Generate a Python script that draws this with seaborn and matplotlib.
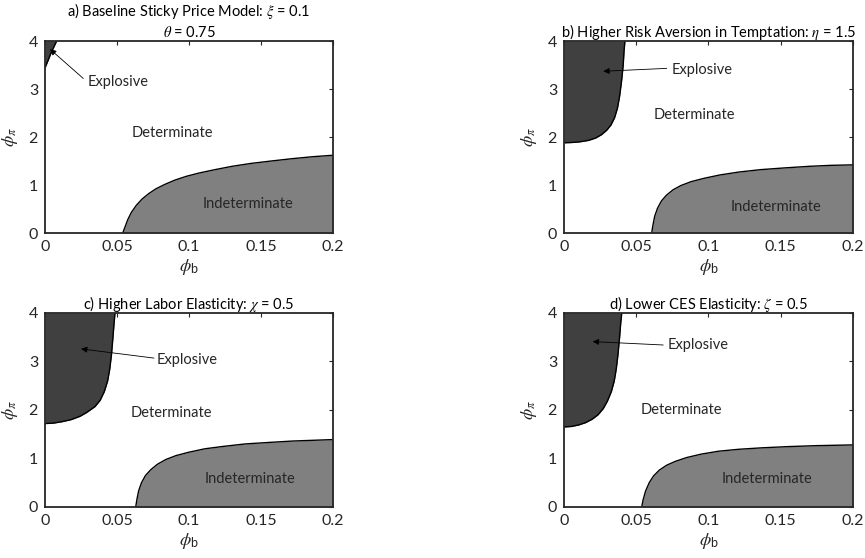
import numpy as np
import pandas as pd
import matplotlib
matplotlib.use("Agg")
import matplotlib.pyplot as plt
import seaborn as sns

#---- Boundary data ----#

# indeterminate boundary: phi_pi as a function of phi_b
ind_b_a = [0.054, 0.0555, 0.0575, 0.060, 0.0635, 0.0675, 0.072, 0.077, 0.083, 0.090,
           0.098, 0.107, 0.118, 0.130, 0.143, 0.157, 0.172, 0.186, 0.2]
ind_pi_a = [0.0, 0.12, 0.28, 0.43, 0.58, 0.71, 0.82, 0.92, 1.01, 1.10,
            1.18, 1.25, 1.32, 1.39, 1.45, 1.50, 1.55, 1.59, 1.62]

ind_b_b = [0.0607, 0.0615, 0.0628, 0.0648, 0.0675, 0.071, 0.0755, 0.081, 0.088,
           0.097, 0.108, 0.121, 0.136, 0.152, 0.170, 0.185, 0.2]
ind_pi_b = [0.0, 0.15, 0.35, 0.52, 0.67, 0.79, 0.90, 0.99, 1.07,
            1.14, 1.21, 1.27, 1.32, 1.355, 1.39, 1.41, 1.42]

ind_b_c = [0.063, 0.0638, 0.065, 0.067, 0.0698, 0.0735, 0.078, 0.084, 0.091,
           0.100, 0.111, 0.124, 0.139, 0.155, 0.172, 0.186, 0.2]
ind_pi_c = [0.0, 0.15, 0.33, 0.50, 0.65, 0.77, 0.88, 0.98, 1.06,
            1.13, 1.20, 1.25, 1.30, 1.33, 1.36, 1.375, 1.39]

ind_b_d = [0.0538, 0.0548, 0.0565, 0.059, 0.062, 0.066, 0.071, 0.077, 0.085,
           0.095, 0.107, 0.121, 0.137, 0.155, 0.175, 0.2]
ind_pi_d = [0.0, 0.15, 0.33, 0.50, 0.64, 0.76, 0.86, 0.94, 1.02,
            1.09, 1.15, 1.19, 1.22, 1.245, 1.265, 1.28]

# explosive boundary: phi_b as a function of phi_pi
exp_pi_a = [3.44, 3.6, 3.75, 3.88, 4.0]
exp_b_a = [0.0, 0.0022, 0.0042, 0.0062, 0.0081]

exp_pi_b = [1.88, 1.885, 1.90, 1.93, 1.98, 2.05, 2.14, 2.25, 2.40, 2.60, 2.85, 3.15, 3.50, 3.80, 4.0]
exp_b_b = [0.0, 0.005, 0.011, 0.017, 0.022, 0.026, 0.0295, 0.0325, 0.035, 0.037, 0.0385, 0.0398, 0.041, 0.0416, 0.0422]

exp_pi_c = [1.72, 1.73, 1.76, 1.80, 1.87, 1.95, 2.07, 2.20, 2.38, 2.60, 2.85, 3.15, 3.50, 3.80, 4.0]
exp_b_c = [0.0, 0.006, 0.012, 0.018, 0.0243, 0.029, 0.0347, 0.0383, 0.0412, 0.0435, 0.045, 0.0462, 0.0472, 0.048, 0.0486]

exp_pi_d = [1.65, 1.66, 1.69, 1.74, 1.81, 1.90, 2.03, 2.18, 2.38, 2.60, 2.85, 3.15, 3.50, 3.80, 4.0]
exp_b_d = [0.0, 0.005, 0.010, 0.015, 0.0195, 0.0235, 0.0272, 0.030, 0.0328, 0.0348, 0.0362, 0.0374, 0.0385, 0.0393, 0.040]

titles = [
    "a) Baseline Sticky Price Model: $\\xi$ = 0.1\n$\\theta$ = 0.75",
    "b) Higher Risk Aversion in Temptation: $\\eta$ = 1.5",
    "c) Higher Labor Elasticity: $\\chi$ = 0.5",
    "d) Lower CES Elasticity: $\\zeta$ = 0.5",
]

# label positions (phi_b, phi_pi)
exp_txt = [(0.0509, 3.15), (0.0953, 3.40), (0.0988, 3.03), (0.093, 3.33)]
exp_tail = [(0.0266, 3.22), (0.0711, 3.43), (0.0757, 3.07), (0.0687, 3.34)]
exp_head = [(0.0035, 3.83), (0.0272, 3.37), (0.025, 3.26), (0.0199, 3.41)]
det_txt = [(0.0887, 2.09), (0.090, 2.46), (0.0875, 1.94), (0.0814, 2.0)]
ind_txt = [(0.141, 0.60), (0.1467, 0.54), (0.1424, 0.57), (0.1407, 0.58)]

panels = [
    (ind_b_a, ind_pi_a, exp_pi_a, exp_b_a),
    (ind_b_b, ind_pi_b, exp_pi_b, exp_b_b),
    (ind_b_c, ind_pi_c, exp_pi_c, exp_b_c),
    (ind_b_d, ind_pi_d, exp_pi_d, exp_b_d),
]

#---- Render ----#

sns.set_style("white")
plt.rcParams['font.family'] = ['Lato', 'DejaVu Sans']
plt.rcParams['mathtext.fontset'] = 'stix'

fig = plt.figure(figsize=(8.65, 5.58), dpi=100)
positions = [
    [0.052, 0.5824, 0.333, 0.3441],
    [0.652, 0.5824, 0.334, 0.3441],
    [0.052, 0.0914, 0.333, 0.3477],
    [0.652, 0.0914, 0.334, 0.3477],
]

col_exp = "#404040"
col_ind = "#808080"
edge = "#262626"

for i, (ib, ip, ep, eb) in enumerate(panels):
    ax = fig.add_axes(positions[i])
    ax.fill_between(ib, 0, ip, color=col_ind, lw=0)
    ax.fill_betweenx(ep, 0, eb, color=col_exp, lw=0)
    sns.lineplot(x=ib, y=ip, sort=False, color="black", lw=1.0, ax=ax, estimator=None)
    sns.lineplot(x=eb, y=ep, sort=False, color="black", lw=1.0, ax=ax, estimator=None)

    ax.set_xlim(0, 0.2)
    ax.set_ylim(0, 4)
    ax.set_xticks([0, 0.05, 0.1, 0.15, 0.2])
    ax.set_xticklabels(["0", "0.05", "0.1", "0.15", "0.2"])
    ax.set_yticks([0, 1, 2, 3, 4])
    ax.tick_params(direction="in", length=3, width=0.8, top=True, right=True,
                   labelsize=11.5, colors=edge, pad=5)
    for s in ax.spines.values():
        s.set_color(edge)
        s.set_linewidth(1.3)
    ax.set_xlabel(r"$\phi_{\mathregular{b}}$", fontsize=13, color=edge, labelpad=2)
    ax.set_ylabel(r"$\phi_\pi$", fontsize=13, color=edge, labelpad=6)
    ax.set_title(titles[i], fontsize=10.5, color="black", pad=3, linespacing=1.3)

    ax.annotate("", xy=exp_head[i], xytext=exp_tail[i],
                arrowprops=dict(arrowstyle="-|>", color="black", lw=0.6,
                                mutation_scale=9, shrinkA=0, shrinkB=0))
    ax.text(*exp_txt[i], "Explosive", fontsize=10.5, ha="center", va="center")
    ax.text(*det_txt[i], "Determinate", fontsize=10.5, ha="center", va="center")
    ax.text(*ind_txt[i], "Indeterminate", fontsize=10.5, ha="center", va="center")

plt.savefig("out.png", dpi=100)
